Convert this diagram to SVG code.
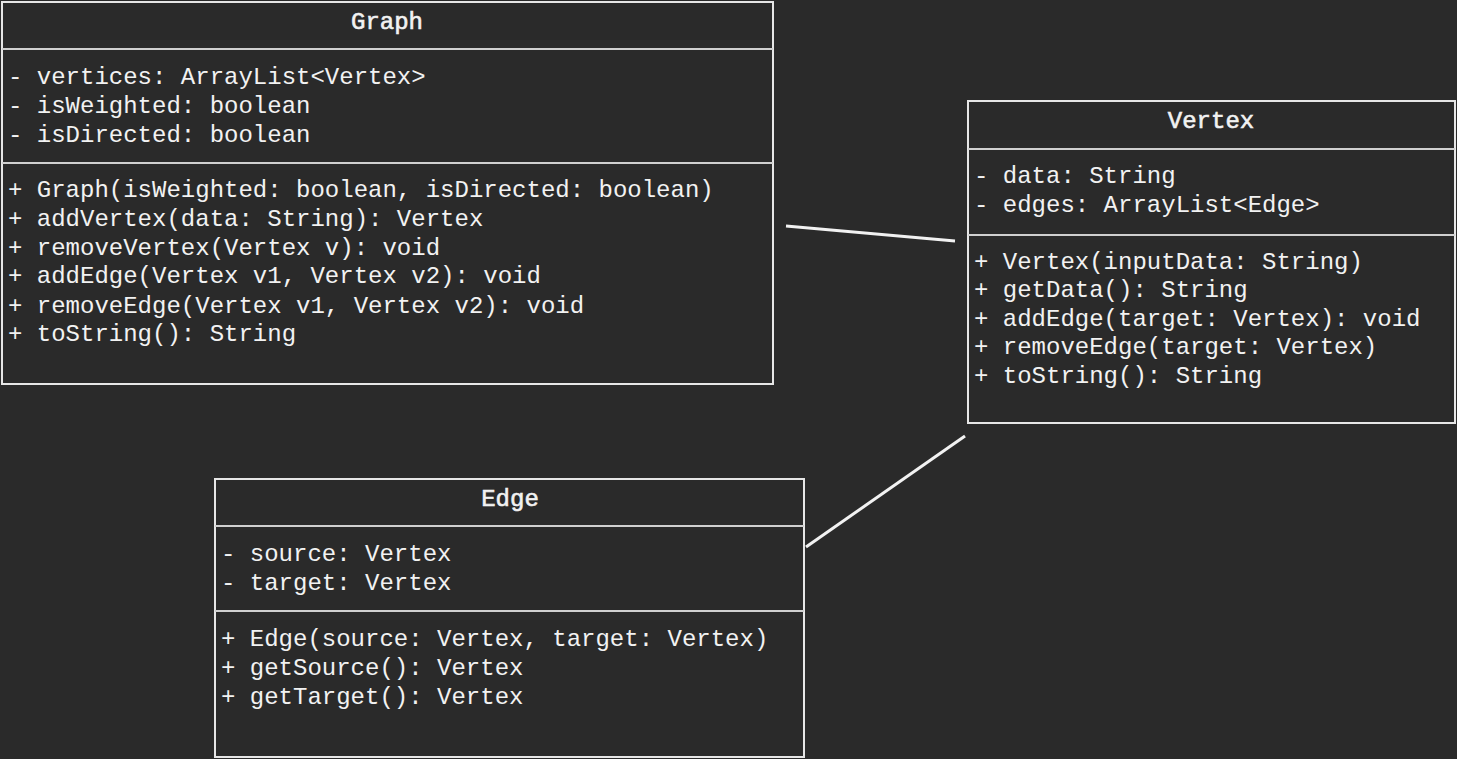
<svg xmlns="http://www.w3.org/2000/svg" width="1457" height="759" viewBox="0 0 1457 759">
<style>
.box{fill:#2a2a2a;stroke:#e6e6e6;stroke-width:2}
.div{stroke:#d0d0d0;stroke-width:2}
text{font-family:"Liberation Mono","DejaVu Sans Mono",monospace;font-size:24px;fill:#f2f2f2}
.t{text-anchor:middle;stroke:#f2f2f2;stroke-width:0.6}
.conn{stroke:#f2f2f2;stroke-width:3;fill:none}
</style>
<rect width="1457" height="759" fill="#2a2a2a"/>
<g id="connectors">
<line class="conn" x1="786" y1="226" x2="955" y2="241"/>
<line class="conn" x1="806" y1="547" x2="965" y2="436"/>
</g>
<g id="graph">
<rect class="box" x="2" y="2" width="771" height="382"/>
<line class="div" x1="2" y1="49" x2="773" y2="49"/>
<line class="div" x1="2" y1="163" x2="773" y2="163"/>
<text class="t" x="387" y="29">Graph</text>
<text x="8" y="84">- vertices: ArrayList&lt;Vertex&gt;</text>
<text x="8" y="113">- isWeighted: boolean</text>
<text x="8" y="142">- isDirected: boolean</text>
<text x="8" y="197">+ Graph(isWeighted: boolean, isDirected: boolean)</text>
<text x="8" y="226">+ addVertex(data: String): Vertex</text>
<text x="8" y="255">+ removeVertex(Vertex v): void</text>
<text x="8" y="283">+ addEdge(Vertex v1, Vertex v2): void</text>
<text x="8" y="313">+ removeEdge(Vertex v1, Vertex v2): void</text>
<text x="8" y="341">+ toString(): String</text>
</g>
<g id="vertex">
<rect class="box" x="968" y="101" width="487" height="322"/>
<line class="div" x1="968" y1="149" x2="1455" y2="149"/>
<line class="div" x1="968" y1="235" x2="1455" y2="235"/>
<text class="t" x="1211" y="128">Vertex</text>
<text x="974" y="183">- data: String</text>
<text x="974" y="212">- edges: ArrayList&lt;Edge&gt;</text>
<text x="974" y="269">+ Vertex(inputData: String)</text>
<text x="974" y="297">+ getData(): String</text>
<text x="974" y="326">+ addEdge(target: Vertex): void</text>
<text x="974" y="354">+ removeEdge(target: Vertex)</text>
<text x="974" y="383">+ toString(): String</text>
</g>
<g id="edge">
<rect class="box" x="215" y="479" width="589" height="278"/>
<line class="div" x1="215" y1="526" x2="804" y2="526"/>
<line class="div" x1="215" y1="611" x2="804" y2="611"/>
<text class="t" x="510" y="506">Edge</text>
<text x="221" y="561">- source: Vertex</text>
<text x="221" y="590">- target: Vertex</text>
<text x="221" y="646">+ Edge(source: Vertex, target: Vertex)</text>
<text x="221" y="675">+ getSource(): Vertex</text>
<text x="221" y="704">+ getTarget(): Vertex</text>
</g>
</svg>
